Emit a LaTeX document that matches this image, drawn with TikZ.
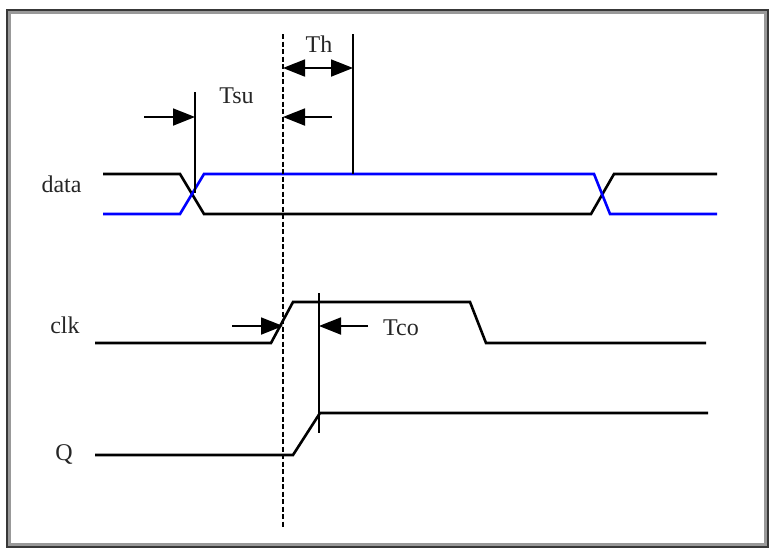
\documentclass[tikz,border=0pt]{standalone}
\usepackage{fontspec}
\setmainfont{Liberation Serif}
\usetikzlibrary{arrows.meta}
\begin{document}
\begin{tikzpicture}[x=1pt,y=-1pt,
  sig/.style={line width=2.6pt, line join=miter, draw=black},
  bluesig/.style={sig, draw=blue},
  vline/.style={line width=1.8pt, draw=black},
  dashline/.style={line width=1.8pt, draw=black, dash pattern=on 5pt off 2.5pt},
  dimarrow/.style={line width=1.8pt, -{Triangle[length=22pt,width=17pt]}},
  dimboth/.style={line width=1.8pt, {Triangle[length=22pt,width=17pt]}-{Triangle[length=22pt,width=17pt]}},
  lbl/.style={anchor=base, inner sep=0pt, font=\fontsize{24}{28}\selectfont, text=black!85}]
\useasboundingbox (0,0) rectangle (777,558);
% frame
\draw[line width=2.5pt, black!78] (7,10) rectangle (768,547);
\draw[line width=2.5pt, black!40] (9.5,12.5) rectangle (765.5,544.5);

% labels
\node[lbl] (ldata) at (61.5,192) {data};
\node[lbl] (lclk) at (65,333) {clk};
\node[lbl] (lq) at (64,460) {Q};
\node[lbl] (ltsu) at (236.5,103) {Tsu};
\node[lbl] (lth) at (319,52) {Th};
\node[lbl] (ltco) at (401,335) {Tco};

% data signals
\draw[sig] (103,174) -- (180,174) -- (204,214) -- (591,214) -- (614,174) -- (717,174);
\draw[bluesig] (103,214) -- (180,214) -- (204,174) -- (594,174) -- (610,214) -- (717,214);
% clk
\draw[sig] (95,343) -- (271,343) -- (293,302) -- (470,302) -- (486,343) -- (706,343);
% Q
\draw[sig] (95,455) -- (293,455) -- (320,413) -- (708,413);

% reference lines
\coordinate (sutop) at (195,92);
\coordinate (subot) at (195,193);
\coordinate (dtop) at (283,34);
\coordinate (dbot) at (283,527);
\coordinate (thtop) at (353,34);
\coordinate (thbot) at (353,174);
\coordinate (cotop) at (319,293);
\coordinate (cobot) at (319,433);
\draw[vline] (sutop) -- (subot);
\draw[dashline] (dtop) -- (dbot);
\draw[vline] (thtop) -- (thbot);
\draw[vline] (cotop) -- (cobot);

% dimension arrows
\coordinate (a1s) at (144,117);
\coordinate (a1e) at (195,117);
\coordinate (a2s) at (332,117);
\coordinate (a2e) at (283,117);
\coordinate (a3s) at (283,68);
\coordinate (a3e) at (353,68);
\coordinate (a4s) at (232,326);
\coordinate (a4e) at (283,326);
\coordinate (a5s) at (368,326);
\coordinate (a5e) at (319,326);
\draw[dimarrow] (a1s) -- (a1e);
\draw[dimarrow] (a2s) -- (a2e);
\draw[dimboth] (a3s) -- (a3e);
\draw[dimarrow] (a4s) -- (a4e);
\draw[dimarrow] (a5s) -- (a5e);
\end{tikzpicture}
\end{document}
